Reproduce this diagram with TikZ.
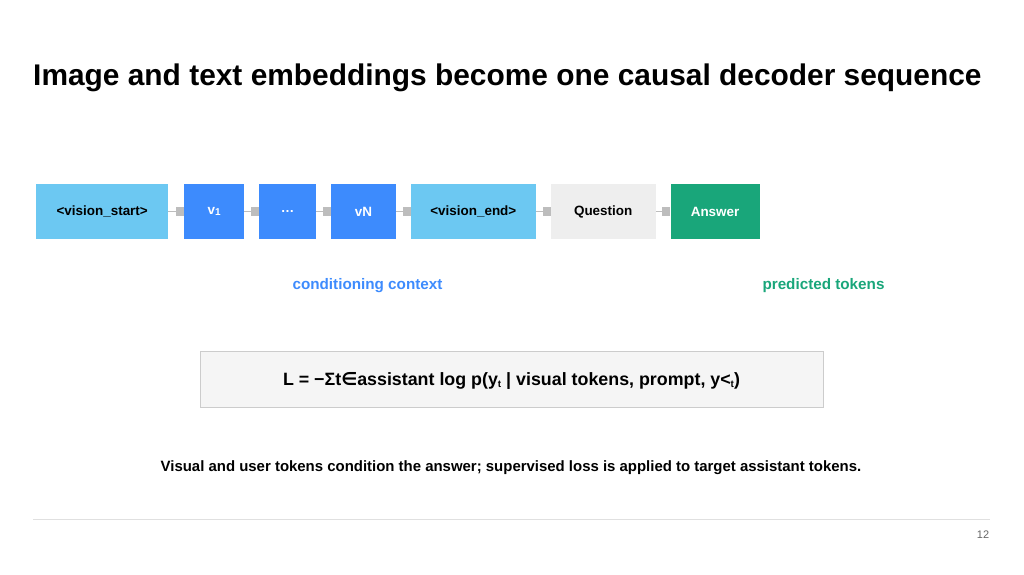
\documentclass[tikz,border=0pt]{standalone}
\usepackage{fontspec}
\setmainfont{Liberation Sans}
\newfontfamily\symfont{DejaVu Sans}
\usetikzlibrary{positioning,arrows.meta}
\definecolor{lightblue}{HTML}{6CC8F2}
\definecolor{tokblue}{HTML}{3D8BFD}
\definecolor{qgray}{HTML}{EEEEEE}
\definecolor{ansgreen}{HTML}{19A67A}
\definecolor{conngray}{HTML}{BDBDBD}
\newcommand{\lowsub}[1]{\raisebox{-0.25ex}{\fontsize{10}{10}\selectfont #1}}
\begin{document}
\begin{tikzpicture}[x=1bp, y=1bp,
  tok/.style={minimum height=55bp, inner sep=0pt, font=\fontsize{13.5}{16}\selectfont\bfseries},
  conn/.style={draw=conngray, line width=1.6bp, -{Square[length=8bp,width=9bp]}}]
\useasboundingbox (0,0) rectangle (1024,-575);
\node [anchor=base west, inner sep=0pt, font=\fontsize{30}{35}\selectfont\bfseries] (title) at (33,-86) {Image and text embeddings become one causal decoder sequence};
% token sequence
\node [tok, fill=lightblue, minimum width=132bp, anchor=west] (vstart) at (36,-211.5) {<vision\_start>};
\node [tok, fill=tokblue, text=white, minimum width=60bp, right=15.5bp of vstart] (v1) {v\lowsub{1}};
\node [tok, fill=tokblue, text=white, minimum width=57bp, right=14.5bp of v1] (vdots) {\ldots};
\node [tok, fill=tokblue, text=white, minimum width=65bp, right=14.5bp of vdots] (vN) {vN};
\node [tok, fill=lightblue, minimum width=125bp, right=14.5bp of vN] (vend) {<vision\_end>};
\node [tok, fill=qgray, minimum width=105bp, right=14.5bp of vend] (question) {Question};
\node [tok, fill=ansgreen, text=white, minimum width=89bp, right=14.5bp of question] (answer) {Answer};
\draw [conn] (vstart) -- (v1);
\draw [conn] (v1) -- (vdots);
\draw [conn] (vdots) -- (vN);
\draw [conn] (vN) -- (vend);
\draw [conn] (vend) -- (question);
\draw [conn] (question) -- (answer);
% labels
\node [text=tokblue, font=\fontsize{15.3}{18}\selectfont\bfseries] (context) at (367.5,-285.5) {conditioning context};
\node [text=ansgreen, font=\fontsize{15.3}{18}\selectfont\bfseries] (predicted) at (823.5,-285.5) {predicted tokens};
% loss
\node [draw=black!20, fill=black!4, minimum width=623bp, minimum height=56bp, inner sep=0pt, font=\fontsize{17.9}{21}\selectfont\bfseries] (loss) at (511.5,-379) {};
\node [font=\fontsize{17.9}{21}\selectfont\bfseries] (formula) at (511.5,-381) {L = −Σt{\symfont\bfseries ∈}assistant log p(y\lowsub{t} | visual tokens, prompt, y<\lowsub{t})};
\node [font=\fontsize{15}{18}\selectfont\bfseries] (caption) at (511,-468) {Visual and user tokens condition the answer; supervised loss is applied to target assistant tokens.};
% footer
\draw [black!12, line width=1bp] (33,-519) -- (990,-519);
\node [text=black!60, font=\fontsize{11}{13}\selectfont] (page) at (983,-535) {12};
\end{tikzpicture}
\end{document}
